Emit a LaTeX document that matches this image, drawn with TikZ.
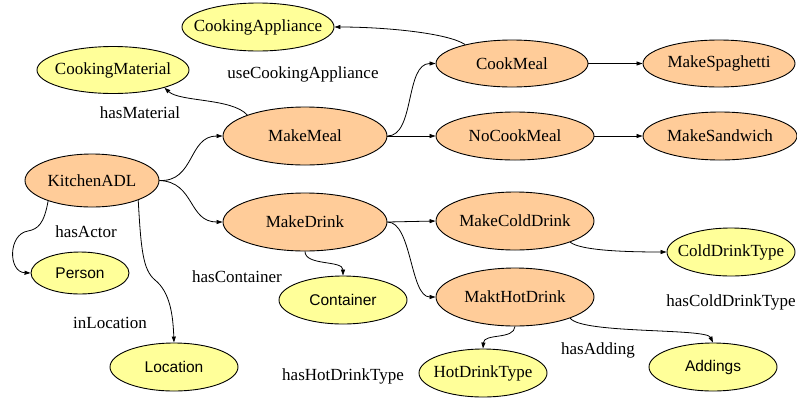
\documentclass[tikz,border=0pt]{standalone}
\usepackage{fontspec}
\setmainfont{Liberation Serif}
\newfontfamily\conceptsans{Liberation Sans}
\usetikzlibrary{shapes.geometric,arrows.meta}
\definecolor{peach}{RGB}{255,204,153}
\definecolor{paleyellow}{RGB}{255,255,153}
% zero-width text box, so the ellipse size is set by minimum width/height alone
\newcommand{\ctext}[1]{\makebox[0pt]{#1}}
\tikzset{
  task/.style={ellipse, draw, fill=peach, line width=0.9pt, inner sep=0pt,
    font=\fontsize{17}{20}\selectfont},
  concept/.style={ellipse, draw, fill=paleyellow, line width=0.9pt, inner sep=0pt,
    font=\fontsize{17}{20}\selectfont},
  sansconcept/.style={concept, font=\conceptsans\fontsize{15.5}{18}\selectfont},
  rel/.style={inner sep=0pt, font=\fontsize{17}{20}\selectfont},
  link/.style={-{Triangle[length=6pt,width=4pt]}, line width=0.8pt},
}
\begin{document}
\begin{tikzpicture}[x=1pt, y=-1pt]
\useasboundingbox (0,0) rectangle (797,400);

% activity hierarchy
\node[task, minimum width=134pt, minimum height=53pt] (kadl) at (92,180.5) {\ctext{KitchenADL}};
\node[task, minimum width=164pt, minimum height=58pt] (mm)  at (305,136) {\ctext{MakeMeal}};
\node[task, minimum width=164pt, minimum height=58pt] (md)  at (305,222) {\ctext{MakeDrink}};
\node[task, minimum width=152pt, minimum height=47pt] (ckm) at (512,63.5) {\ctext{CookMeal}};
\node[task, minimum width=158pt, minimum height=48pt] (ncm) at (515,136) {\ctext{NoCookMeal}};
\node[task, minimum width=152pt, minimum height=47pt] (msp) at (719,63.5) {\ctext{MakeSpaghetti}};
\node[task, minimum width=154pt, minimum height=48pt] (msw) at (720,136) {\ctext{MakeSandwich}};
\node[task, minimum width=158pt, minimum height=58pt] (mcd) at (515,221) {\ctext{MakeColdDrink}};
\node[task, minimum width=158pt, minimum height=58pt] (mhd) at (515,297) {\ctext{MaktHotDrink}};

% related concepts
\node[concept, minimum width=152pt, minimum height=48pt] (ca)  at (258,27) {\ctext{CookingAppliance}};
\node[concept, minimum width=152pt, minimum height=47pt] (cm)  at (113,70) {\ctext{CookingMaterial}};
\node[sansconcept, minimum width=98pt, minimum height=42pt] (per) at (80,273) {\ctext{Person}};
\node[sansconcept, minimum width=128pt, minimum height=48pt] (cont) at (343,300) {\ctext{Container}};
\node[sansconcept, minimum width=128pt, minimum height=48pt] (loc) at (174,367) {\ctext{Location}};
\node[concept, minimum width=128pt, minimum height=48pt] (cdt) at (731,252) {\ctext{ColdDrinkType}};
\node[concept, minimum width=128pt, minimum height=48pt] (hdt) at (483,373) {\ctext{HotDrinkType}};
\node[sansconcept, minimum width=128pt, minimum height=48pt] (add) at (713,367) {\ctext{Addings}};

% relation labels
\node[rel] (l-uca) at (303,74)  {useCookingAppliance};
\node[rel] (l-hm)  at (140,113) {hasMaterial};
\node[rel] (l-ha)  at (86,232)  {hasActor};
\node[rel] (l-hc)  at (237,277) {hasContainer};
\node[rel] (l-il)  at (110,323) {inLocation};
\node[rel] (l-hht) at (343,376) {hasHotDrinkType};
\node[rel] (l-had) at (598,350) {hasAdding};
\node[rel] (l-hcd) at (731,302) {hasColdDrinkType};

% bend points of the longer connectors
\coordinate (actorbend) at (28,231);
\coordinate (locbend) at (155,280);

% subactivity links
\draw[link] (kadl.east) .. controls (195,182) and (188,136) .. (mm.west);
\draw[link] (kadl.east) .. controls (195,182) and (188,222) .. (md.west);
\draw[link] (mm.east) .. controls (415,136) and (405,63.5) .. (ckm.west);
\draw[link] (mm.east) -- (ncm.west);
\draw[link] (ckm.east) -- (msp.west);
\draw[link] (ncm.east) -- (msw.west);
\draw[link] (md.east) -- (mcd.west);
\draw[link] (md.east) .. controls (412,222) and (410,297) .. (mhd.west);

% property links
\draw[link] (kadl.205) .. controls (44,224) and (38,229) .. (actorbend)
  .. controls (8,234) and (8,272) .. (per.west);
\draw[link] (kadl.-23) .. controls (141,250) and (143,270) .. (locbend)
  .. controls (170,292) and (173,315) .. (loc.north);
\draw[link] (mm.160) .. controls (232,98) and (180,102) .. (cm.-19);
\draw[link] (ckm.158) .. controls (448,33) and (385,27) .. (ca.east);
\draw[link] (md.south) .. controls (305,266) and (343,260) .. (cont.north);
\draw[link] (mcd.-21) .. controls (580,250) and (620,252) .. (cdt.west);
\draw[link] (mhd.south) .. controls (514,340) and (484,333) .. (hdt.north);
\draw[link] (mhd.-21) .. controls (582,334) and (706,328) .. (add.north);
\end{tikzpicture}
\end{document}
